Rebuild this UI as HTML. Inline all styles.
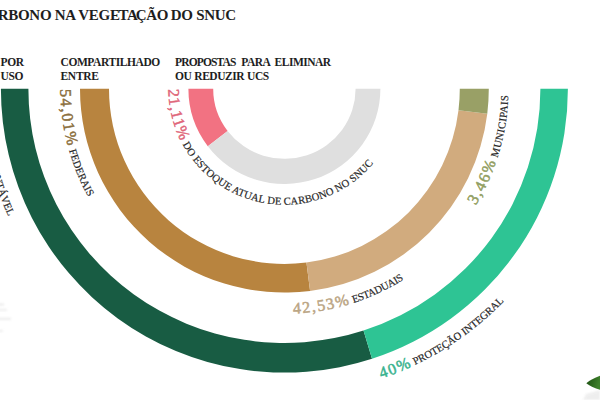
<!DOCTYPE html>
<html><head><meta charset="utf-8"><style>
html,body{margin:0;padding:0;background:#fff;width:600px;height:400px;overflow:hidden}
svg{display:block}
.t{font-family:"Liberation Serif",serif;}
.hd{font-family:"Liberation Serif",serif;font-weight:bold;font-size:11.5px;fill:#1e1e1e;letter-spacing:-0.3px}
.lb{fill:#222;stroke:#333;stroke-width:0.2px}
.num{stroke-width:0.5px}

</style></head><body>
<svg width="600" height="400" viewBox="0 0 600 400">
<defs>
<path id="p1" d="M168.40,88.80 A116.0,116.0 0 0 0 400.40,88.80" fill="none"/><path id="p2" d="M60.40,88.80 A224.0,224.0 0 0 0 508.40,88.80" fill="none"/><path id="p3" d="M59.40,88.80 A225.0,225.0 0 0 0 509.40,88.80" fill="none"/><path id="p4" d="M60.40,88.80 A224.0,224.0 0 0 0 508.40,88.80" fill="none"/><path id="p5" d="M-19.60,88.80 A304.0,304.0 0 0 0 588.40,88.80" fill="none"/><path id="p6" d="M-21.10,88.80 A305.5,305.5 0 0 0 589.90,88.80" fill="none"/>
</defs>
<text class="t" x="-23.5" y="20" style="font-weight:bold;font-size:15px;fill:#1e1e1e;letter-spacing:-0.27px"><tspan>CARBONO NA VEGE</tspan><tspan dx="-1.2">TA</tspan><tspan dx="-2">ÇÃO</tspan><tspan dx="-1"> DO SNUC</tspan></text>
<text class="hd" x="0.5" y="65.5">POR</text>
<text class="hd" x="0.5" y="79.5">USO</text>
<text class="hd" x="60.5" y="65.5" style="letter-spacing:-0.42px">COMPARTILHADO</text>
<text class="hd" x="60.5" y="79.5">ENTRE</text>
<text class="hd" x="175" y="65.5" style="letter-spacing:-0.5px"><tspan style="letter-spacing:-0.85px">PROPOSTAS</tspan><tspan dx="3.4"> PARA</tspan><tspan dx="2.5"> ELIMINAR</tspan></text>
<text class="hd" x="175" y="79.5" style="letter-spacing:-0.45px;word-spacing:0.5px">OU REDUZIR UCS</text>
<path d="M188.40,88.80 A96.0,95.2 0 0 0 207.81,146.20 L227.60,131.01 A71.2,70.0 0 0 1 213.20,88.80 Z" fill="#f27282"/><path d="M207.81,146.20 A96.0,95.2 0 0 0 380.40,88.80 L355.60,88.80 A71.2,70.0 0 0 1 227.60,131.01 Z" fill="#dfdfdf"/><path d="M80.00,88.80 A204.4,203.8 0 0 0 310.08,290.98 L306.44,262.51 A175.4,175.1 0 0 1 109.00,88.80 Z" fill="#b8843f"/><path d="M310.08,290.98 A204.4,203.8 0 0 0 487.28,113.64 L458.49,110.14 A175.4,175.1 0 0 1 306.44,262.51 Z" fill="#d1ab7e"/><path d="M487.28,113.64 A204.4,203.8 0 0 0 488.80,88.80 L459.80,88.80 A175.4,175.1 0 0 1 458.49,110.14 Z" fill="#99a066"/><path d="M0.90,88.80 A283.5,283.8 0 0 0 372.01,358.71 L363.51,330.56 A256.0,254.2 0 0 1 28.40,88.80 Z" fill="#185c43"/><path d="M372.01,358.71 A283.5,283.8 0 0 0 567.90,88.80 L540.40,88.80 A256.0,254.2 0 0 1 363.51,330.56 Z" fill="#2ec494"/>
<text class="t" text-anchor="start"><textPath href="#p1" startOffset="0.5"><tspan class="num" fill="#e0667a" stroke="#e0667a" style="font-size:16px;letter-spacing:0.95px">21,11%</tspan><tspan class="lb" style="font-size:10.6px;letter-spacing:0.09px"> DO ESTOQUE ATUAL DE CARBONO NO SNUC</tspan></textPath></text><text class="t" text-anchor="start"><textPath href="#p2" startOffset="0.5"><tspan class="num" fill="#8c7040" stroke="#8c7040" style="font-size:16px;letter-spacing:1.6px">54,01%</tspan><tspan class="lb" style="font-size:10.6px;letter-spacing:0.0px"> FEDERAIS</tspan></textPath></text><text class="t" text-anchor="start"><textPath href="#p3" startOffset="362.1"><tspan class="num" fill="#bba584" stroke="#bba584" style="font-size:16px;letter-spacing:1.6px">42,53%</tspan><tspan class="lb" style="font-size:10.6px;letter-spacing:-0.3px"> ESTADUAIS</tspan></textPath></text><text class="t" text-anchor="end"><textPath href="#p4" startOffset="697.0"><tspan class="num" fill="#93a063" stroke="#93a063" style="font-size:16px;letter-spacing:1.6px">3,46%</tspan><tspan class="lb" style="font-size:10.6px;letter-spacing:0.3px"> MUNICIPAIS</tspan></textPath></text><text class="t" text-anchor="start"><textPath href="#p5" startOffset="-3.5"><tspan class="num" fill="#185c44" stroke="#185c44" style="font-size:16px;letter-spacing:1.5px">60%</tspan><tspan class="lb" style="font-size:10.6px;letter-spacing:0.0px"> USO SUSTENTÁVEL</tspan></textPath></text><text class="t" text-anchor="start"><textPath href="#p6" startOffset="578.3"><tspan class="num" fill="#3ab38f" stroke="#3ab38f" style="font-size:16px;letter-spacing:1.5px">40%</tspan><tspan class="lb" style="font-size:10.6px;letter-spacing:-0.1px"> PROTEÇÃO INTEGRAL</tspan></textPath></text>
<defs><filter id="bl" x="-50%" y="-50%" width="200%" height="200%"><feGaussianBlur stdDeviation="1.2"/></filter>
<linearGradient id="lf" x1="0" y1="0" x2="1" y2="0.3"><stop offset="0" stop-color="#1c5012"/><stop offset="0.6" stop-color="#2f6b1f"/><stop offset="1" stop-color="#3e802b"/></linearGradient></defs>
<path d="M586,394 L600,390 L600,400 L583,400 Z" fill="#ebebeb" filter="url(#bl)" opacity="0.8"/>
<path d="M586.3,383.2 C590,380.4 594,378 600,375.8 L600,389.8 C594.5,388.3 590,386.2 586.3,383.2 Z" fill="url(#lf)"/>
<g filter="url(#bl)" fill="#e4e4e4" opacity="0.75">
<rect x="-2" y="303.5" width="6" height="2"/>
<rect x="-2" y="309" width="9" height="1.6"/>
<rect x="-2" y="317.8" width="13" height="2"/>
<rect x="-2" y="330" width="5" height="1.6"/>
</g>
</svg>
</body></html>
